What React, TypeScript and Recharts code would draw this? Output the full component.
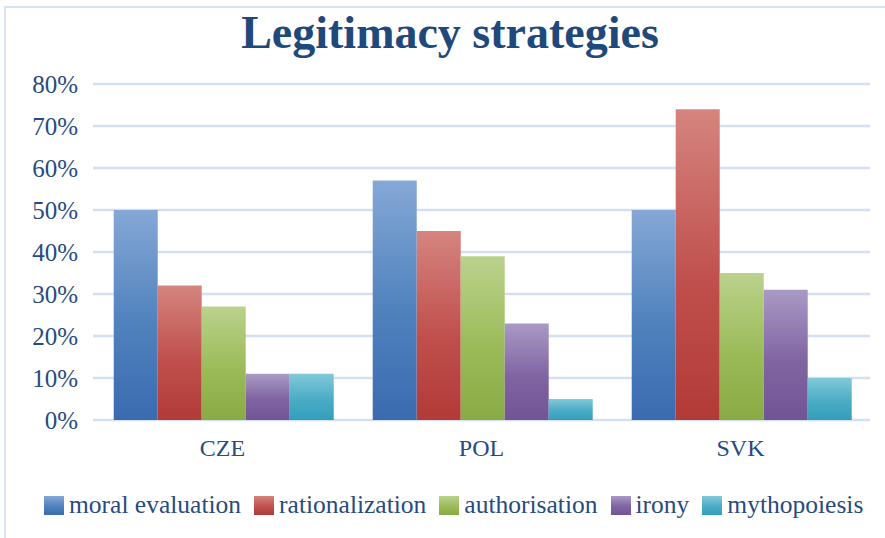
import { BarChart, Bar, XAxis, YAxis, CartesianGrid, Legend } from "recharts"

const categories = ["CZE", "POL", "SVK"]
const seriesNames = ["moral evaluation", "rationalization", "authorisation", "irony", "mythopoiesis"]
const moralEvaluation = [50, 57, 50]
const rationalization = [32, 45, 74]
const authorisation = [27, 39, 35]
const irony = [11, 23, 31]
const mythopoiesis = [11, 5, 10]
const yTicks = [0, 10, 20, 30, 40, 50, 60, 70, 80]

const seriesValues = [moralEvaluation, rationalization, authorisation, irony, mythopoiesis]
const seriesKeys = ["s0", "s1", "s2", "s3", "s4"]

// top, middle, bottom of each bar's gradient
const gradients = [
  ["#85a8d6", "#4f81bd", "#3a6bb0"],
  ["#d5847f", "#c0504d", "#b23a37"],
  ["#bbd28c", "#9bbb59", "#89aa44"],
  ["#a99ac5", "#8064a2", "#715494"],
  ["#82c9da", "#4bacc6", "#339eba"],
]

const data = categories.map((name, i) => {
  const row: any = { name }
  seriesKeys.forEach((k, j) => (row[k] = seriesValues[j][i]))
  return row
})

const FONT = "'Liberation Serif', serif"
const TEXT = "#274b7e"

const renderLegend = () => (
  <div style={{ display: "flex", alignItems: "center", fontFamily: FONT, fontSize: 25.5, color: TEXT, whiteSpace: "nowrap" }}>
    {seriesNames.map((n, i) => (
      <div key={n} style={{ display: "flex", alignItems: "center", marginRight: 13 }}>
        <span
          style={{
            width: 20,
            height: 19,
            marginRight: 5,
            background: `linear-gradient(${gradients[i][0]}, ${gradients[i][1]} 55%, ${gradients[i][2]})`,
          }}
        />
        <span>{n}</span>
      </div>
    ))}
  </div>
)

export default function App() {
  return (
    <div style={{ position: "absolute", left: 0, top: 0, width: 885, height: 538, overflow: "hidden", background: "#fff" }}>
      <div
        style={{
          position: "absolute",
          left: 4,
          top: 6,
          width: 900,
          height: 560,
          borderLeft: "2px solid #d6e3f6",
          borderTop: "2px solid #d6e3f6",
        }}
      />
      <div
        style={{
          position: "absolute",
          left: 15,
          top: 10,
          width: 870,
          textAlign: "center",
          fontFamily: FONT,
          fontWeight: 700,
          fontSize: 46,
          lineHeight: "46px",
          color: "#1f487b",
        }}
      >
        Legitimacy strategies
      </div>
      <BarChart
        width={885}
        height={538}
        data={data}
        margin={{ top: 84, right: 15, left: 0, bottom: 88 }}
        barCategoryGap="8%"
        barGap={0}
        style={{ position: "absolute", left: 0, top: 0 }}
      >
        <defs>
          {gradients.map((g, i) => (
            <linearGradient key={i} id={`grad${i}`} x1="0" y1="0" x2="0" y2="1">
              <stop offset="0%" stopColor={g[0]} />
              <stop offset="55%" stopColor={g[1]} />
              <stop offset="100%" stopColor={g[2]} />
            </linearGradient>
          ))}
        </defs>
        <CartesianGrid vertical={false} stroke="#d3e0f4" strokeWidth={2.5} />
        <XAxis
          dataKey="name"
          axisLine={false}
          tickLine={false}
          tickMargin={13}
          height={30}
          tick={{ fontFamily: FONT, fontSize: 24, fill: TEXT }}
        />
        <YAxis
          width={93}
          domain={[0, 80]}
          ticks={yTicks}
          axisLine={false}
          tickLine={false}
          tickMargin={9}
          tickFormatter={(v) => `${v}%`}
          tick={{ fontFamily: FONT, fontSize: 25, fill: TEXT }}
        />
        <Legend
          layout="horizontal"
          verticalAlign="middle"
          content={renderLegend}
          wrapperStyle={{ position: "absolute", left: 44, top: 490, width: 860 }}
        />
        {seriesKeys.map((k, i) => (
          <Bar key={k} dataKey={k} name={seriesNames[i]} fill={`url(#grad${i})`} isAnimationActive={false} />
        ))}
      </BarChart>
    </div>
  )
}
